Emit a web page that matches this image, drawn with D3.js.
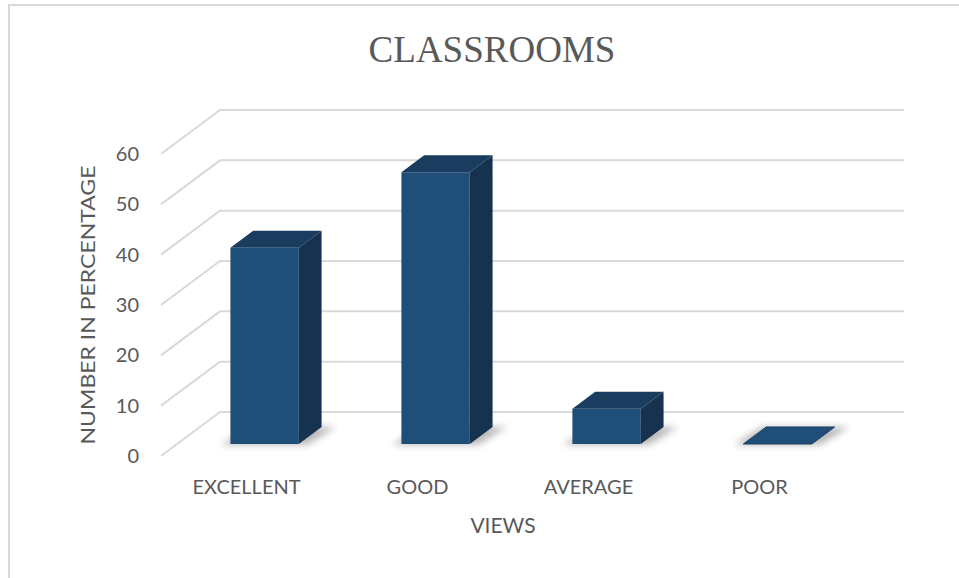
<!DOCTYPE html>
<html>
<head>
<meta charset="utf-8">
<script src="https://cdn.jsdelivr.net/npm/d3@7"></script>
<style>
  html, body { margin: 0; padding: 0; background: #fff; }
  svg { display: block; }
</style>
</head>
<body>
<svg id="chart" width="959" height="578"></svg>
<script>
// ---- data ----
const categories = ["EXCELLENT", "GOOD", "AVERAGE", "POOR"];
const values = [39, 54, 7, 0];
const yTicks = [0, 10, 20, 30, 40, 50, 60];
const chartTitle = "CLASSROOMS";
const xTitle = "VIEWS";
const yTitle = "NUMBER IN PERCENTAGE";

// ---- layout ----
const W = 959, H = 578;
const svg = d3.select("#chart");
const font = "Lato, 'Open Sans', sans-serif";
const textColor = "#595959";
const gridColor = "#d9d9d9";

// back wall
const backLeft = 220, backRight = 904, floorBackY = 412;
// depth vector (back -> front of floor)
const depthX = -59, depthY = 44;

const h = d3.scaleLinear().domain([0, 60]).range([0, 302]);
const band = d3.scaleBand().domain(categories).range([backLeft + 2, backRight + 2])
  .paddingInner(0.6).paddingOuter(0.3);
const step = (backRight - backLeft) / categories.length;

// project: back-wall x, value, depth z (0 = back, 1 = front)
function P(xb, v, z) {
  return [xb + depthX * z, floorBackY - h(v) + depthY * z];
}

// border
svg.append("rect").attr("x", 9).attr("y", 5).attr("width", W + 10).attr("height", H + 10)
  .attr("fill", "none").attr("stroke", gridColor).attr("stroke-width", 2);

// title
svg.append("text").attr("x", 492).attr("y", 62).attr("text-anchor", "middle")
  .attr("font-family", "'Liberation Serif', 'Times New Roman', serif")
  .attr("font-size", 37).attr("fill", textColor).text(chartTitle);

// gridlines
const line = d3.line();
svg.append("g").selectAll("path").data(yTicks).join("path")
  .attr("d", v => line([P(backLeft, v, 1), P(backLeft, v, 0), P(backRight, v, 0)]))
  .attr("fill", "none").attr("stroke", gridColor).attr("stroke-width", 2);

// tick labels
svg.append("g").selectAll("text").data(yTicks).join("text")
  .attr("x", 139)
  .attr("y", v => P(backLeft, v, 1)[1] + 2)
  .attr("text-anchor", "end").attr("dominant-baseline", "middle")
  .attr("font-family", font).attr("font-size", 20).attr("fill", textColor)
  .text(d => d);

// shadow filter
const defs = svg.append("defs");
defs.append("filter").attr("id", "blur").attr("x", "-50%").attr("y", "-50%")
  .attr("width", "200%").attr("height", "200%")
  .append("feGaussianBlur").attr("stdDeviation", 3.5);

// bars
const zFront = 0.727, zBack = 0.341;
const barFront = "#1f4e79", barTop = "#1a3c5f", barSide = "#16324f";
const gBars = svg.append("g");
categories.forEach((c, i) => {
  const v = values[i];
  const x0 = band(c), x1 = band(c) + band.bandwidth();
  // shadow on the floor
  const sh = [P(x0 - 8, 0, zFront + 0.02), P(x1 + 10, 0, zFront + 0.02),
              P(x1 + 14, 0, zBack), P(x0 - 4, 0, zBack)];
  gBars.append("path").attr("d", line(sh) + "Z")
    .attr("fill", "#7f7f7f").attr("opacity", 0.55).attr("filter", "url(#blur)");
  // side face
  gBars.append("path")
    .attr("d", line([P(x1, v, zFront), P(x1, v, zBack), P(x1, 0, zBack), P(x1, 0, zFront)]) + "Z")
    .attr("fill", barSide);
  // front face
  gBars.append("path")
    .attr("d", line([P(x0, v, zFront), P(x1, v, zFront), P(x1, 0, zFront), P(x0, 0, zFront)]) + "Z")
    .attr("fill", barFront);
  // top face
  gBars.append("path")
    .attr("d", line([P(x0, v, zFront), P(x1, v, zFront), P(x1, v, zBack), P(x0, v, zBack)]) + "Z")
    .attr("fill", v === 0 ? barFront : barTop)
    .attr("stroke", v === 0 ? barTop : "none").attr("stroke-width", 1);
});

// category labels (centered on front band of floor)
svg.append("g").selectAll("text").data(categories).join("text")
  .attr("x", (c, i) => backLeft + step * (i + 0.5) + depthX)
  .attr("y", 489)
  .attr("text-anchor", "middle").attr("dominant-baseline", "middle")
  .attr("font-family", font).attr("font-size", 20).attr("fill", textColor)
  .text(d => d);

// axis titles
svg.append("text").attr("x", 503).attr("y", 528)
  .attr("text-anchor", "middle").attr("dominant-baseline", "middle")
  .attr("font-family", font).attr("font-size", 21).attr("fill", textColor).text(xTitle);

svg.append("text")
  .attr("transform", "translate(90,305) rotate(-90) scale(1.15,1)")
  .attr("text-anchor", "middle").attr("dominant-baseline", "middle")
  .attr("font-family", font).attr("font-size", 20).attr("fill", textColor).text(yTitle);
</script>
</body>
</html>
